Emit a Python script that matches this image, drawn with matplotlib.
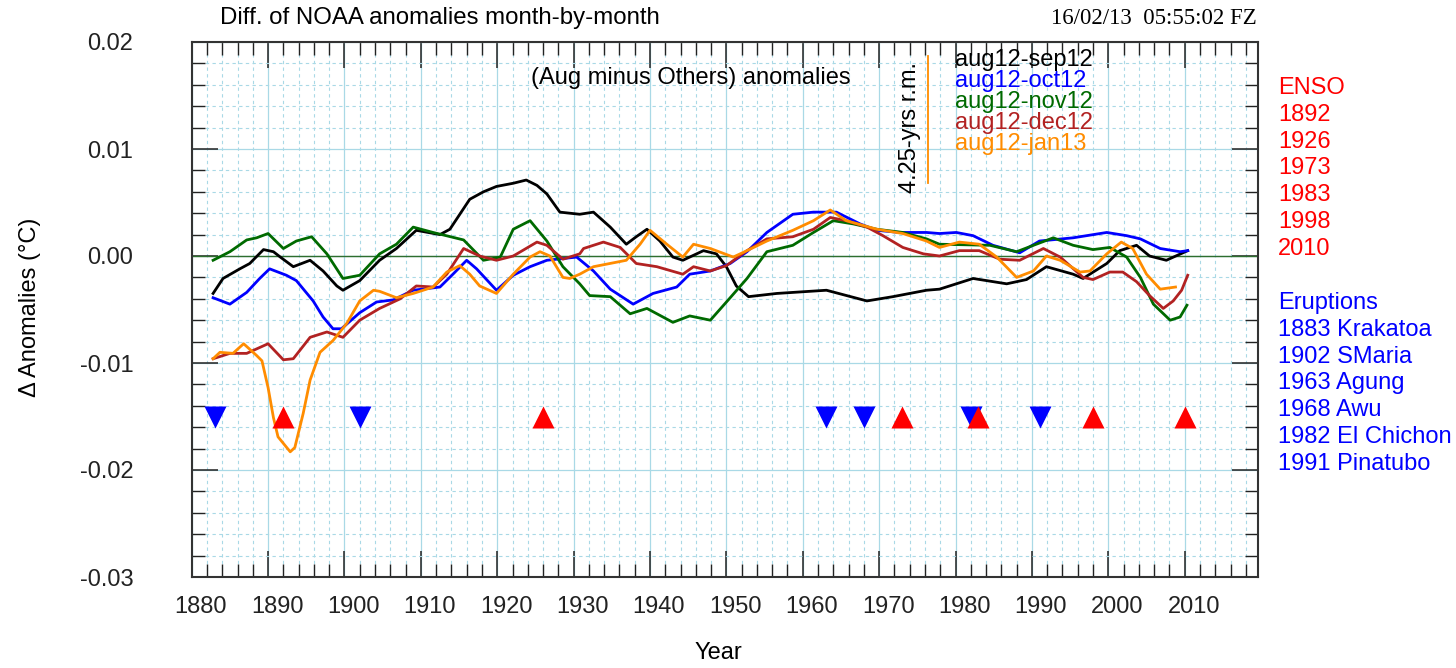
import matplotlib
matplotlib.use("Agg")
import matplotlib.pyplot as plt
import matplotlib.transforms as mtransforms
from matplotlib.ticker import MultipleLocator, FormatStrFormatter

plt.rcParams['font.family'] = ['Liberation Sans', 'DejaVu Sans']

# running-mean differences (year, deg C)
sep_yr = [1882.8, 1884.1, 1886.3, 1887.6, 1889.4, 1890.7, 1891.6, 1893.3, 1895.5, 1897.2,
          1899.0, 1899.8, 1902.0, 1904.6, 1906.8, 1909.4, 1912.5, 1913.8, 1915.1, 1916.4,
          1918.2, 1919.9, 1922.1, 1923.8, 1925.2, 1926.5, 1928.2, 1930.8, 1932.6, 1934.8,
          1936.9, 1938.2, 1939.6, 1941.3, 1943.0, 1944.3, 1947.0, 1948.7, 1950.0, 1951.3,
          1952.9, 1956.6, 1963.1, 1968.4, 1971.8, 1976.2, 1977.9, 1982.3, 1986.7, 1989.3,
          1991.9, 1995.4, 1996.7, 1999.8, 2001.5, 2003.7, 2005.4, 2007.6, 2010.4]
sep_val = [-0.0035, -0.0021, -0.0012, -0.0007, 0.0006, 0.0004, -0.0001, -0.0010, -0.0004, -0.0014,
           -0.0028, -0.0032, -0.0023, -0.0004, 0.0007, 0.0024, 0.0020, 0.0025, 0.0039, 0.0053,
           0.0060, 0.0065, 0.0068, 0.0071, 0.0066, 0.0058, 0.0041, 0.0039, 0.0041, 0.0027,
           0.0011, 0.0018, 0.0025, 0.0014, -0.0001, -0.0004, 0.0005, 0.0002, -0.0010, -0.0028,
           -0.0038, -0.0035, -0.0032, -0.0042, -0.0038, -0.0032, -0.0031, -0.0021, -0.0026, -0.0022,
           -0.0010, -0.0017, -0.0021, -0.0007, 0.0005, 0.0010, 0.0000, -0.0004, 0.0005]

oct_yr = [1882.8, 1885.0, 1887.2, 1888.9, 1890.2, 1892.4, 1893.7, 1895.9, 1897.2, 1898.5,
          1899.6, 1902.0, 1904.2, 1906.4, 1909.0, 1912.5, 1914.2, 1916.0, 1917.3, 1919.9,
          1922.1, 1924.3, 1926.5, 1930.4, 1932.6, 1934.8, 1937.8, 1940.4, 1943.5, 1945.2,
          1947.9, 1950.5, 1952.7, 1955.3, 1958.7, 1961.4, 1964.4, 1967.5, 1969.7, 1972.7,
          1976.2, 1977.9, 1980.1, 1982.3, 1984.9, 1988.4, 1991.0, 1995.4, 1999.8, 2002.4,
          2004.2, 2006.8, 2009.4, 2010.4]
oct_val = [-0.0039, -0.0045, -0.0034, -0.0021, -0.0012, -0.0018, -0.0023, -0.0042, -0.0057, -0.0068,
           -0.0068, -0.0053, -0.0043, -0.0041, -0.0032, -0.0029, -0.0017, -0.0004, -0.0012, -0.0032,
           -0.0018, -0.0010, -0.0004, -0.0001, -0.0014, -0.0031, -0.0045, -0.0035, -0.0029, -0.0017,
           -0.0014, -0.0007, 0.0004, 0.0022, 0.0039, 0.0041, 0.0041, 0.0030, 0.0024, 0.0022,
           0.0022, 0.0021, 0.0022, 0.0019, 0.0010, 0.0003, 0.0014, 0.0017, 0.0022, 0.0019,
           0.0016, 0.0007, 0.0004, 0.0005]

nov_yr = [1882.8, 1885.0, 1887.2, 1888.5, 1890.0, 1892.0, 1893.7, 1895.7, 1897.7, 1899.8,
          1902.0, 1904.6, 1906.8, 1909.0, 1911.6, 1915.6, 1918.2, 1920.4, 1922.1, 1924.3,
          1926.5, 1928.6, 1930.8, 1932.1, 1934.8, 1937.4, 1939.6, 1943.0, 1945.2, 1947.9,
          1950.5, 1952.7, 1955.3, 1958.7, 1961.4, 1964.0, 1966.6, 1969.7, 1973.1, 1976.2,
          1977.9, 1984.5, 1988.0, 1990.2, 1992.8, 1995.4, 1998.0, 2000.2, 2002.4, 2004.2,
          2005.9, 2008.1, 2009.4, 2010.3]
nov_val = [-0.0004, 0.0004, 0.0015, 0.0017, 0.0021, 0.0007, 0.0014, 0.0018, 0.0002, -0.0021,
           -0.0018, 0.0002, 0.0011, 0.0027, 0.0022, 0.0015, -0.0004, -0.0001, 0.0025, 0.0033,
           0.0014, -0.0010, -0.0026, -0.0037, -0.0038, -0.0054, -0.0049, -0.0062, -0.0056, -0.0060,
           -0.0039, -0.0021, 0.0004, 0.0010, 0.0022, 0.0033, 0.0030, 0.0025, 0.0022, 0.0016,
           0.0011, 0.0010, 0.0004, 0.0010, 0.0017, 0.0010, 0.0006, 0.0008, -0.0001, -0.0020,
           -0.0045, -0.0060, -0.0057, -0.0046]

dec_yr = [1882.8, 1885.0, 1887.2, 1890.0, 1892.0, 1893.3, 1895.5, 1897.7, 1899.8, 1902.0,
          1904.6, 1907.3, 1909.4, 1911.6, 1913.4, 1915.6, 1917.7, 1919.9, 1922.1, 1925.2,
          1926.5, 1928.6, 1930.8, 1931.3, 1933.9, 1936.1, 1938.2, 1940.9, 1944.3, 1945.7,
          1947.9, 1950.0, 1952.7, 1955.3, 1958.7, 1961.4, 1963.6, 1965.7, 1968.4, 1970.5,
          1973.1, 1975.8, 1977.9, 1980.5, 1983.1, 1985.8, 1988.4, 1991.5, 1993.7, 1996.7,
          1998.0, 2000.2, 2001.9, 2003.7, 2005.4, 2007.2, 2008.5, 2009.6, 2010.4]
dec_val = [-0.0096, -0.0091, -0.0091, -0.0082, -0.0097, -0.0096, -0.0076, -0.0071, -0.0076, -0.0060,
           -0.0049, -0.0040, -0.0028, -0.0029, -0.0017, 0.0007, 0.0000, -0.0004, 0.0000, 0.0013,
           0.0010, -0.0003, 0.0002, 0.0007, 0.0013, 0.0008, -0.0007, -0.0010, -0.0017, -0.0010,
           -0.0014, -0.0009, 0.0005, 0.0016, 0.0018, 0.0025, 0.0036, 0.0033, 0.0027, 0.0019,
           0.0008, 0.0002, 0.0000, 0.0005, 0.0005, -0.0003, -0.0004, 0.0007, -0.0001, -0.0020,
           -0.0022, -0.0015, -0.0015, -0.0024, -0.0037, -0.0049, -0.0042, -0.0032, -0.0018]

jan_yr = [1882.8, 1883.7, 1885.4, 1886.8, 1888.5, 1889.2, 1890.0, 1890.7, 1891.3, 1892.9,
          1893.5, 1894.6, 1895.5, 1896.8, 1898.5, 1900.3, 1902.0, 1903.8, 1904.6, 1906.8,
          1909.0, 1911.6, 1913.4, 1915.1, 1916.4, 1917.7, 1919.9, 1922.1, 1924.3, 1925.6,
          1926.9, 1928.6, 1929.5, 1930.8, 1932.6, 1936.9, 1938.7, 1940.0, 1942.2, 1944.3,
          1945.7, 1947.9, 1950.9, 1952.7, 1955.3, 1958.7, 1961.4, 1963.6, 1965.7, 1969.7,
          1973.1, 1976.2, 1977.9, 1980.5, 1983.1, 1985.4, 1988.0, 1990.2, 1991.9, 1993.7,
          1996.3, 1997.6, 1999.8, 2001.7, 2003.2, 2005.0, 2006.8, 2008.8]
jan_val = [-0.0096, -0.0090, -0.0091, -0.0082, -0.0093, -0.0098, -0.0123, -0.0151, -0.0169, -0.0183,
           -0.0179, -0.0147, -0.0116, -0.0090, -0.0079, -0.0063, -0.0042, -0.0032, -0.0033, -0.0039,
           -0.0035, -0.0029, -0.0015, -0.0009, -0.0017, -0.0028, -0.0035, -0.0017, -0.0001, 0.0004,
           0.0000, -0.0020, -0.0021, -0.0017, -0.0010, -0.0004, 0.0011, 0.0024, 0.0011, -0.0001,
           0.0011, 0.0007, -0.0001, 0.0005, 0.0014, 0.0024, 0.0033, 0.0043, 0.0033, 0.0025,
           0.0021, 0.0014, 0.0008, 0.0013, 0.0011, -0.0001, -0.0020, -0.0014, 0.0000, -0.0004,
           -0.0015, -0.0014, 0.0002, 0.0013, 0.0007, -0.0017, -0.0031, -0.0029]

labels = ['aug12-sep12', 'aug12-oct12', 'aug12-nov12', 'aug12-dec12', 'aug12-jan13']
colors = ['black', '#0000ff', '#006a00', '#b22222', '#ff8c00']

enso_years = [1892, 1926, 1973, 1983, 1998, 2010]
eruption_years = [1883, 1902, 1963, 1968, 1982, 1991]
eruption_names = ['Krakatoa', 'SMaria', 'Agung', 'Awu', 'El Chichon', 'Pinatubo']
marker_level = -0.015

W, H = 1456, 668
fig = plt.figure(figsize=(W / 100, H / 100), dpi=100)
x0, x1, y0, y1 = 191.7, 1258, 42, 577
ax = fig.add_axes([x0 / W, 1 - y1 / H, (x1 - x0) / W, (y1 - y0) / H])

ax.set_ylim(-0.03, 0.02)
ax.xaxis.set_minor_locator(MultipleLocator(2))
ax.yaxis.set_major_locator(MultipleLocator(0.01))
ax.yaxis.set_minor_locator(MultipleLocator(0.002))
ax.yaxis.set_major_formatter(FormatStrFormatter('%.2f'))
ax.set_xticks(range(1880, 2011, 10))
ax.set_xlim(1880, 2019.6)

grid_col = '#a9d9e6'
ax.grid(which='major', color=grid_col, lw=0.9, ls='-')
ax.grid(which='minor', color=grid_col, lw=0.8, ls=(0, (3, 3)))
ax.set_axisbelow(True)

fs = 17
ax.tick_params(which='both', direction='in', top=True, right=True, colors='#222222')
ax.tick_params(which='major', length=19, width=1.1, labelsize=fs)
ax.tick_params(which='minor', length=9.5, width=1.0)
ax.tick_params(axis='x', which='major', pad=14)
ax.tick_params(axis='y', which='major', pad=42)
for lab in ax.get_xticklabels():
    lab.set_transform(lab.get_transform() + mtransforms.ScaledTranslation(0.09, 0, fig.dpi_scale_trans))
for sp in ax.spines.values():
    sp.set_linewidth(1.5)
    sp.set_color('#333333')

ax.axhline(0, color='#2e6e2e', lw=1.0, zorder=2)

series = [(sep_yr, sep_val), (oct_yr, oct_val), (nov_yr, nov_val), (dec_yr, dec_val), (jan_yr, jan_val)]
for (xs, ys), c in zip(series, colors):
    ax.plot(xs, ys, color=c, lw=2.0, zorder=3)

ax.plot(eruption_years, [marker_level] * len(eruption_years), 'v', color='#0000ff', ms=16, mec='none', zorder=4)
ax.plot(enso_years, [marker_level] * len(enso_years), '^', color='#ff0000', ms=16, mec='none', zorder=4)

ax.text(0.468, 0.933, '(Aug minus Others) anomalies', transform=ax.transAxes,
        ha='center', va='center', fontsize=fs)
ax.text(0.6737, 0.841, '4.25-yrs r.m.', transform=ax.transAxes, rotation=90,
        ha='center', va='center', fontsize=fs)
ax.plot([0.6905, 0.6905], [0.974, 0.736], transform=ax.transAxes, color='#ff8c00', lw=1.3)
for i, (lab, c) in enumerate(zip(labels, colors)):
    ax.text(0.716, 0.966 - i * 0.0392, lab, transform=ax.transAxes, color=c,
            ha='left', va='center', fontsize=fs)

fig.text(220 / W, 1 - 18 / H, 'Diff. of NOAA anomalies month-by-month', ha='left', va='center', fontsize=17.3)
fig.text(1257 / W, 1 - 18 / H, '16/02/13  05:55:02 FZ', ha='right', va='center', fontsize=16.5,
         family='Liberation Serif')
fig.text(30 / W, 1 - 307 / H, '\u0394 Anomalies (\u00b0C)', rotation=90, ha='center', va='center', fontsize=fs)
fig.text(718 / W, 1 - 653 / H, 'Year', ha='center', va='center', fontsize=fs)

step = 26.8
fig.text(1278 / W, 1 - 88 / H, 'ENSO', color='#ff0000', ha='left', va='center', fontsize=fs)
for i, yr in enumerate(enso_years):
    fig.text(1278 / W, 1 - (88 + (i + 1) * step) / H, str(yr), color='#ff0000',
             ha='left', va='center', fontsize=fs)
fig.text(1278 / W, 1 - 303 / H, 'Eruptions', color='#0000ff', ha='left', va='center', fontsize=fs)
for i, (yr, nm) in enumerate(zip(eruption_years, eruption_names)):
    fig.text(1278 / W, 1 - (303 + (i + 1) * step) / H, f'{yr} {nm}', color='#0000ff',
             ha='left', va='center', fontsize=fs)

fig.savefig('out.png', dpi=100)
